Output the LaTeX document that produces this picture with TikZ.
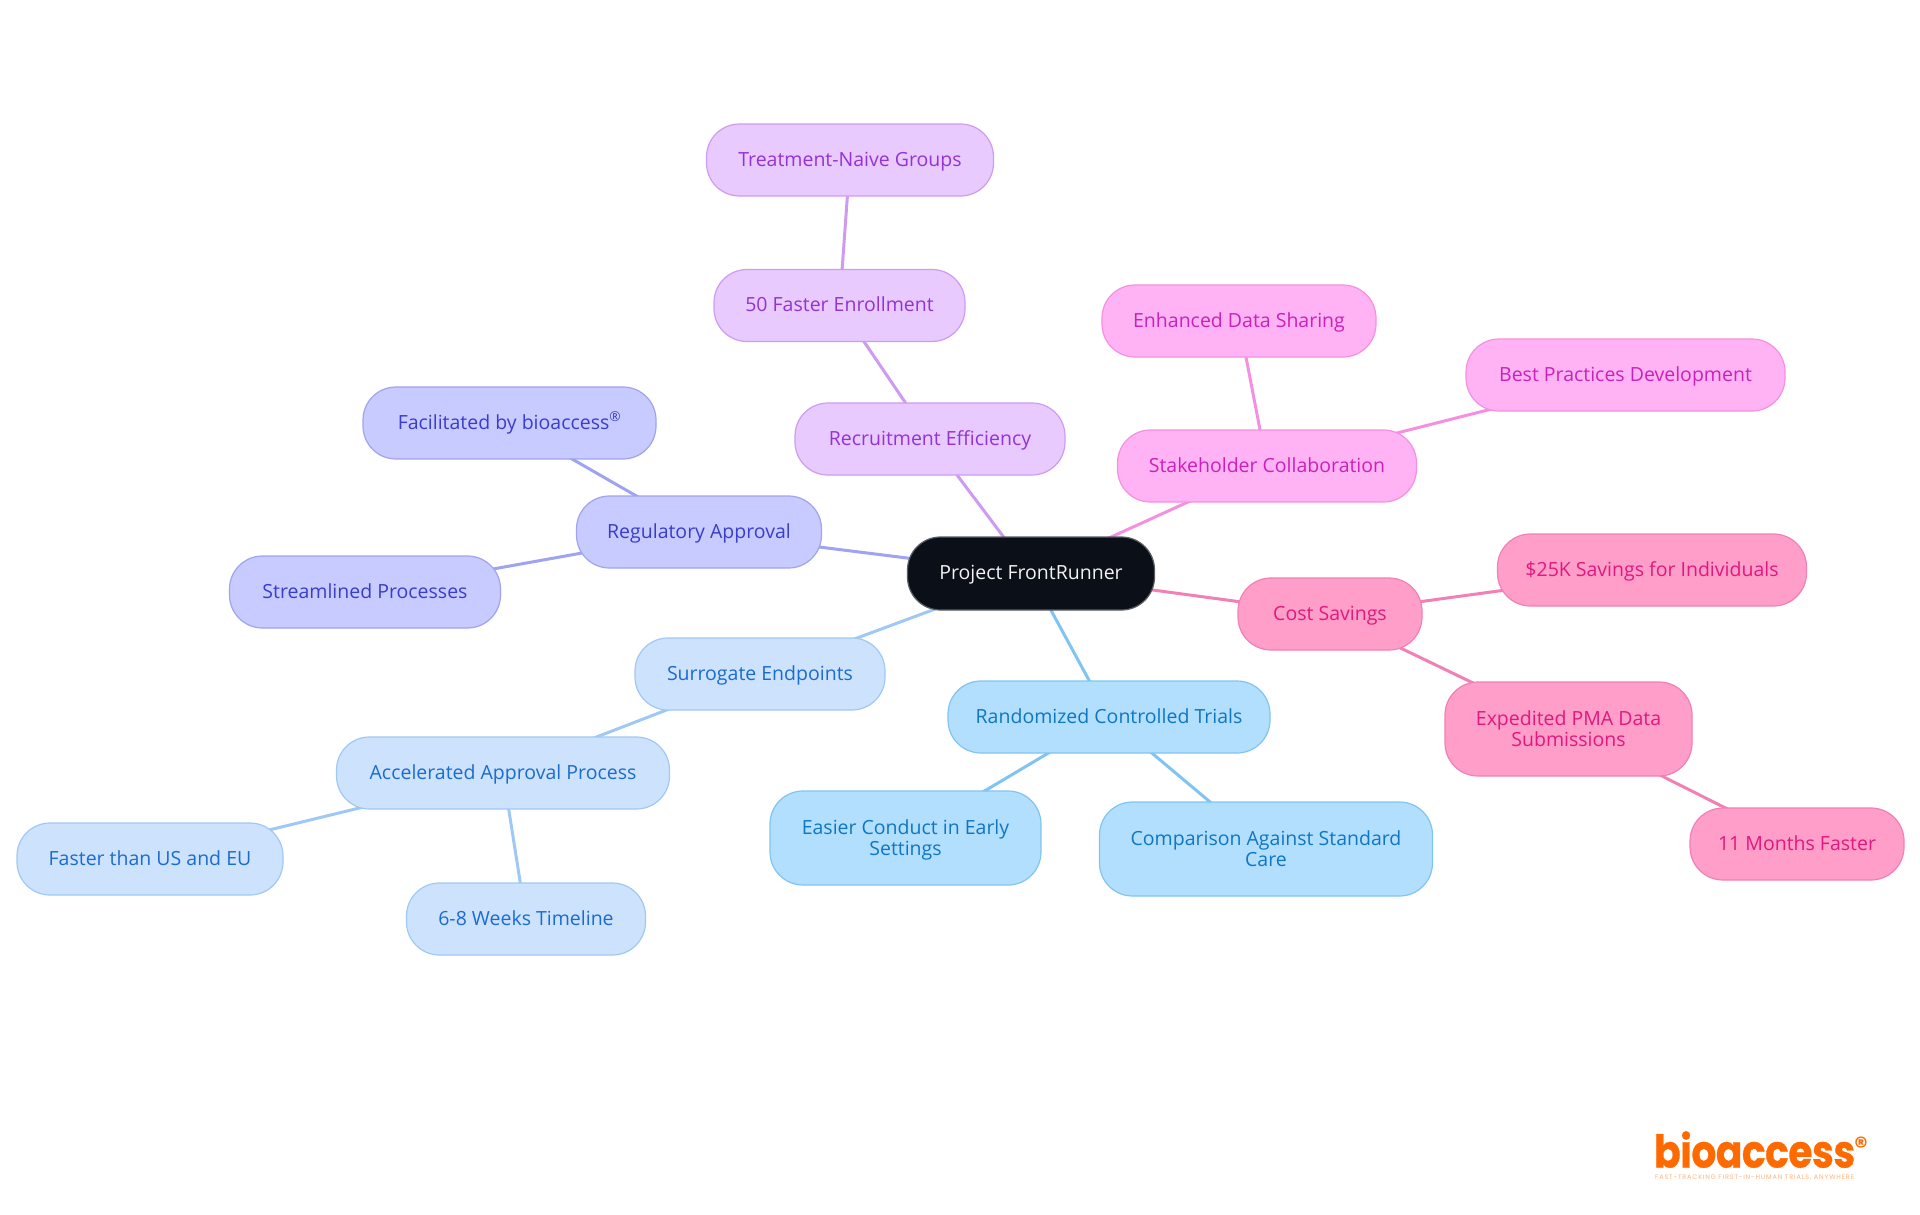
\documentclass[tikz,border=0pt]{standalone}
\usepackage{graphicx}
\usepackage{fontspec}
\setmainfont{Open Sans}
\newfontfamily\logofont{Poppins}
\usetikzlibrary{backgrounds}
\definecolor{cRootF}{HTML}{0B1018}\definecolor{cRootD}{HTML}{5A5E64}
\definecolor{cPinkF}{HTML}{FF9EC9}\definecolor{cPinkD}{HTML}{F080B5}\definecolor{cPinkT}{HTML}{E0187F}
\definecolor{cMagF}{HTML}{FFB3F5}\definecolor{cMagD}{HTML}{F590E0}\definecolor{cMagT}{HTML}{C922B8}
\definecolor{cPurF}{HTML}{E8CAFF}\definecolor{cPurD}{HTML}{CE9BF0}\definecolor{cPurT}{HTML}{9333D6}
\definecolor{cIndF}{HTML}{C8CBFF}\definecolor{cIndD}{HTML}{9FA3F0}\definecolor{cIndT}{HTML}{3A3DCC}
\definecolor{cLbF}{HTML}{CDE3FD}\definecolor{cLbD}{HTML}{A0C8F5}\definecolor{cLbT}{HTML}{1B6BD0}
\definecolor{cSkyF}{HTML}{B3DFFF}\definecolor{cSkyD}{HTML}{80C4F2}\definecolor{cSkyT}{HTML}{0F76C4}
\definecolor{cLogo}{HTML}{FF6A00}\definecolor{cTag}{HTML}{FFB27A}
\newcommand{\lf}{\vphantom{Apg}}
\newcommand{\lft}{\rule{0pt}{19pt}}
\tikzset{
 x=1pt,y=-1pt,
 box/.style={rectangle,rounded corners=33pt,minimum height=72pt,inner sep=0pt,align=center,line width=1.2pt,font=\fontsize{19.5}{21}\selectfont,text height=15.5pt,text depth=3.5pt},
 tall/.style={rectangle,rounded corners=33pt,minimum height=94pt,inner sep=0pt,align=center,line width=1.2pt,font=\fontsize{19.5}{21}\selectfont},
 pinkbox/.style={draw=cPinkD,fill=cPinkF,text=cPinkT},
 magbox/.style={draw=cMagD,fill=cMagF,text=cMagT},
 purbox/.style={draw=cPurD,fill=cPurF,text=cPurT},
 indbox/.style={draw=cIndD,fill=cIndF,text=cIndT},
 lbbox/.style={draw=cLbD,fill=cLbF,text=cLbT},
 skybox/.style={draw=cSkyD,fill=cSkyF,text=cSkyT},
 rootbox/.style={draw=cRootD,fill=cRootF,text=white!95!black},
 link/.style={line width=3pt},
}
\begin{document}
\begin{tikzpicture}
\useasboundingbox (0,0) rectangle (1920,1215);
\node[box,rootbox,minimum width=247pt,minimum height=73pt] (root) at (1031,573.5) {Project FrontRunner};
\node[box,purbox,minimum width=287pt] (tn) at (850,160) {Treatment-Naive Groups};
\node[box,purbox,minimum width=251pt] (fe) at (839.5,305.5) {50 Faster Enrollment};
\node[box,purbox,minimum width=270pt] (re) at (930,439) {Recruitment Efficiency};
\node[box,magbox,minimum width=274pt] (ed) at (1239,321) {Enhanced Data Sharing};
\node[box,magbox,minimum width=319pt] (bp) at (1625.5,375) {Best Practices Development};
\node[box,magbox,minimum width=299pt] (sc) at (1267,466) {Stakeholder Collaboration};
\node[box,indbox,minimum width=293pt] (fb) at (509.5,423) {Facilitated by bioaccess\textsuperscript{®}};
\node[box,indbox,minimum width=245pt] (ra) at (699,532) {Regulatory Approval};
\node[box,indbox,minimum width=271pt] (sp) at (365,592) {Streamlined Processes};
\node[box,pinkbox,minimum width=184pt] (cs) at (1330,614) {Cost Savings};
\node[box,pinkbox,minimum width=309pt] (ts) at (1652,570) {\$25K Savings for Individuals};
\node[tall,pinkbox,minimum width=247pt] (ep) at (1568.5,729) {\lft Expedited PMA Data\\\lf Submissions};
\node[box,pinkbox,minimum width=214pt] (mf) at (1797,844) {11 Months Faster};
\node[box,lbbox,minimum width=250pt] (se) at (760,674) {Surrogate Endpoints};
\node[box,lbbox,minimum width=333pt] (aa) at (503,773) {Accelerated Approval Process};
\node[box,lbbox,minimum width=266pt] (fu) at (150,859) {Faster than US and EU};
\node[box,lbbox,minimum width=239pt] (wt) at (526,919) {6-8 Weeks Timeline};
\node[box,skybox,minimum width=322pt] (rc) at (1109,717) {Randomized Controlled Trials};
\node[tall,skybox,minimum width=271pt] (ec) at (905.5,838) {\lft Easier Conduct in Early\\\lf Settings};
\node[tall,skybox,minimum width=333pt] (ca) at (1266,849) {\lft Comparison Against Standard\\\lf Care};
\begin{scope}[on background layer]
\draw[link,cPurD] (root.center) -- (re.center);
\draw[link,cPurD] (re.center) -- (fe.center);
\draw[link,cPurD] (fe.center) -- (tn.center);
\draw[link,cMagD] (root.center) -- (sc.center);
\draw[link,cMagD] (sc.center) -- (ed.center);
\draw[link,cMagD] (sc.center) -- (bp.center);
\draw[link,cIndD] (root.center) -- (ra.center);
\draw[link,cIndD] (ra.center) -- (fb.center);
\draw[link,cIndD] (ra.center) -- (sp.center);
\draw[link,cPinkD] (root.center) -- (cs.center);
\draw[link,cPinkD] (cs.center) -- (ts.center);
\draw[link,cPinkD] (cs.center) -- (ep.center);
\draw[link,cPinkD] (ep.center) -- (mf.center);
\draw[link,cLbD] (root.center) -- (se.center);
\draw[link,cLbD] (se.center) -- (aa.center);
\draw[link,cLbD] (aa.center) -- (fu.center);
\draw[link,cLbD] (aa.center) -- (wt.center);
\draw[link,cSkyD] (root.center) -- (rc.center);
\draw[link,cSkyD] (rc.center) -- (ec.center);
\draw[link,cSkyD] (rc.center) -- (ca.center);
\end{scope}
\node[inner sep=0pt,anchor=base west,text=cLogo,font=\logofont\bfseries\fontsize{39}{39}\selectfont\addfontfeature{FakeBold=0.8,LetterSpace=-1}] (logo) at (1654,1167.5) {\scalebox{1}[1.16]{bioaccess}};
\node[inner sep=0pt,text=cLogo,font=\logofont\bfseries\fontsize{26}{26}\selectfont] (reg) at (1861,1146) {®};
\node[inner sep=0pt,anchor=base west,text=cTag,font=\logofont\fontsize{6.5}{6.5}\selectfont\addfontfeature{LetterSpace=13}] (tag) at (1655,1179.5) {FAST-TRACKING FIRST-IN-HUMAN TRIALS, ANYWHERE};
\end{tikzpicture}
\end{document}
